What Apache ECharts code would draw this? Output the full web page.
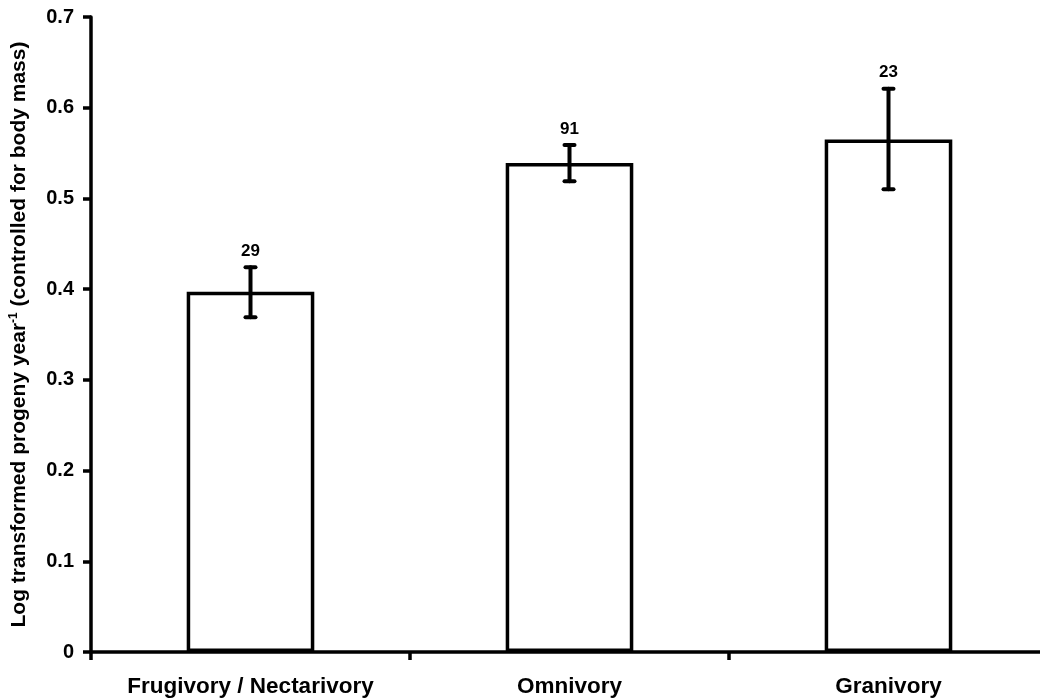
<!DOCTYPE html>
<html>
<head>
<meta charset="utf-8">
<script src="https://cdn.jsdelivr.net/npm/echarts@6/dist/echarts.min.js"></script>
<style>
html,body{margin:0;padding:0;background:#fff;}
#chart{width:1040px;height:700px;}
</style>
</head>
<body>
<div id="chart"></div>
<script>
var categories = ['Frugivory / Nectarivory', 'Omnivory', 'Granivory'];
var means = [0.397, 0.539, 0.565];
var errLow = [0.369, 0.519, 0.510];
var errHigh = [0.424, 0.559, 0.621];
var sampleSizes = ['29', '91', '23'];
var yTicks = { min: 0, max: 0.7, interval: 0.1 };

var errData = categories.map(function (c, i) { return [i, errLow[i], errHigh[i], sampleSizes[i]]; });

var FONT = '"Liberation Sans", Arial, Helvetica, sans-serif';
var chart = echarts.init(document.getElementById('chart'), null, { renderer: 'canvas' });
chart.setOption({
  animation: false,
  backgroundColor: '#ffffff',
  grid: { left: 91, right: -8, top: 17, bottom: 48, containLabel: false, outerBoundsMode: 'none' },
  xAxis: {
    type: 'category',
    data: categories,
    boundaryGap: true,
    axisLine: { lineStyle: { color: '#000', width: 3.5 } },
    axisTick: { show: true, interval: 0, length: 8, lineStyle: { color: '#000', width: 3.5 } },
    axisLabel: { interval: 0, hideOverlap: false, color: '#000', fontFamily: FONT, fontWeight: 'bold', fontSize: 22.5, margin: 23 },
    splitLine: { show: false }
  },
  yAxis: {
    type: 'value',
    min: yTicks.min, max: yTicks.max, interval: yTicks.interval,
    axisLine: { show: true, lineStyle: { color: '#000', width: 3.5 } },
    axisTick: { show: true, length: 8, lineStyle: { color: '#000', width: 3.5 } },
    axisLabel: { color: '#000', fontFamily: FONT, fontWeight: 'bold', fontSize: 20, margin: 17 },
    splitLine: { show: false },
    name: 'Log transformed progeny year{sup|-1} (controlled for body mass)',
    nameLocation: 'middle',
    nameGap: 61,
    nameTextStyle: {
      color: '#000', fontFamily: FONT, fontWeight: 'bold', fontSize: 21,
      rich: { sup: { color: '#000', fontFamily: FONT, fontWeight: 'bold', fontSize: 12, padding: [0, 0, 10, 0] } }
    }
  },
  series: [
    {
      type: 'bar',
      data: means,
      barWidth: '40%',
      itemStyle: { color: '#ffffff', borderColor: '#000', borderWidth: 3.5 },
      z: 2
    },
    {
      type: 'custom',
      data: errData,
      z: 5,
      renderItem: function (params, api) {
        var i = api.value(0);
        var lo = api.coord([i, api.value(1)]);
        var hi = api.coord([i, api.value(2)]);
        var hw = 5;
        var st = { stroke: '#000', lineWidth: 4, lineCap: 'round' };
        return {
          type: 'group',
          children: [
            { type: 'line', shape: { x1: hi[0], y1: hi[1], x2: lo[0], y2: lo[1] }, style: st },
            { type: 'line', shape: { x1: hi[0] - hw, y1: hi[1], x2: hi[0] + hw, y2: hi[1] }, style: st },
            { type: 'line', shape: { x1: lo[0] - hw, y1: lo[1], x2: lo[0] + hw, y2: lo[1] }, style: st },
            { type: 'text', style: { x: hi[0], y: hi[1] - 16, text: String(api.value(3)), fill: '#000',
                font: 'bold 17px ' + FONT, textAlign: 'center', textVerticalAlign: 'middle' } }
          ]
        };
      }
    }
  ]
});
</script>
</body>
</html>
